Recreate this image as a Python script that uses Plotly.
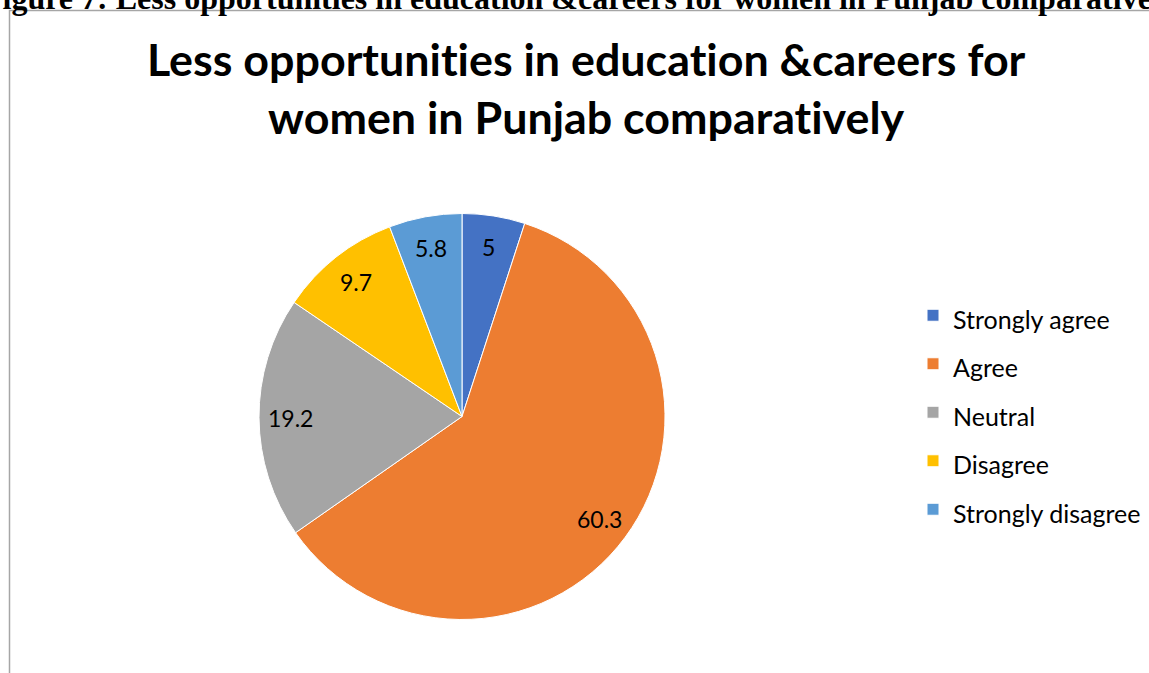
import math
import plotly.graph_objects as go

categories = ["Strongly agree", "Agree", "Neutral", "Disagree", "Strongly disagree"]
values = [5, 60.3, 19.2, 9.7, 5.8]
colors = ["#4472C4", "#ED7D31", "#A5A5A5", "#FFC000", "#5B9BD5"]

W, H = 1149, 673
caption = "Figure 7: Less opportunities in education &careers for women in Punjab comparatively"
# zero-width non-joiners keep Lato from forming the "ti" ligature
title = ("Less opportunit\u200cies in educat\u200cion &careers for<br>"
         "women in Punjab comparat\u200cively")

# pie placement (pixels)
cx, cy, R = 462, 416.5, 203
dom_x = [(cx - R) / W, (cx + R) / W]
dom_y = [1 - (cy + R) / H, 1 - (cy - R) / H]

fig = go.Figure(
    go.Pie(
        labels=categories,
        values=values,
        sort=False,
        direction="clockwise",
        rotation=0,
        marker=dict(colors=colors, line=dict(color="white", width=1)),
        textinfo="none",
        hoverinfo="label+value",
        domain=dict(x=dom_x, y=dom_y),
    )
)

# value labels at the middle angle of each slice, near the rim
total = sum(values)
label_r = 0.845 * R
annotations = []
cum = 0.0
for v in values:
    mid = (cum + v / 2) / total * 2 * math.pi
    cum += v
    px = cx + label_r * math.sin(mid)
    py = cy - label_r * math.cos(mid)
    annotations.append(dict(
        text=f"{v:g}", x=px / W, y=1 - py / H, xref="paper", yref="paper",
        xanchor="center", yanchor="middle", showarrow=False,
        font=dict(family="Lato", size=23, color="black"),
    ))

annotations += [
    dict(
        text="<b>" + title + "</b>",
        x=586 / W, y=1 - 30 / H, xref="paper", yref="paper",
        xanchor="center", yanchor="top", showarrow=False,
        font=dict(family="Lato", size=44.8, color="black"),
    ),
    dict(
        text="<b>" + caption + "</b>",
        x=-19 / W, y=1 - 18 / H, xref="paper", yref="paper",
        xanchor="left", yanchor="bottom", showarrow=False,
        font=dict(family="Liberation Serif", size=32, color="black"),
    ),
]

fig.update_layout(
    width=W,
    height=H,
    margin=dict(l=0, r=0, t=0, b=0),
    paper_bgcolor="white",
    plot_bgcolor="white",
    showlegend=True,
    legend=dict(
        x=913 / W,
        y=1 - 286 / H,
        xanchor="left",
        yanchor="top",
        font=dict(family="Lato", size=35, color="black"),
        bgcolor="rgba(0,0,0,0)",
    ),
    shapes=[
        dict(
            type="rect", xref="paper", yref="paper",
            x0=9.5 / W, x1=1.02, y0=-0.02, y1=1 - 10.5 / H,
            line=dict(color="#A6A6A6", width=1.5),
            fillcolor="rgba(0,0,0,0)", layer="below",
        )
    ],
    annotations=annotations,
)

# smaller legend text while keeping the tall row pitch
fig.data[0].labels = [f'<span style="font-size:25px">{c}</span>' for c in categories]

fig.write_html("out.html")
